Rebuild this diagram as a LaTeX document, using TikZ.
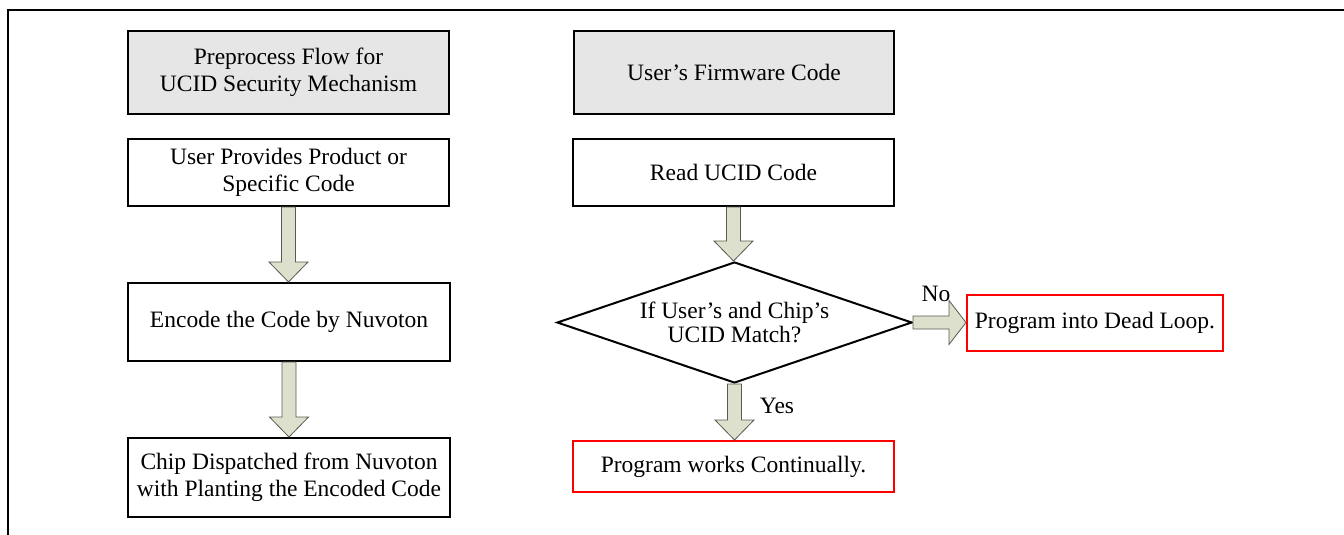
\documentclass[tikz,border=0pt]{standalone}
\usepackage{fontspec}
\setmainfont{Liberation Serif}
\usetikzlibrary{calc,shapes.geometric}
\definecolor{arrowfill}{RGB}{221,224,204}
\definecolor{boxgrey}{RGB}{230,230,230}
\definecolor{arrowline}{RGB}{90,90,80}
\tikzset{
  flowbox/.style={draw=black, line width=2pt, inner sep=0pt, align=center, font=\fontsize{23.5}{27.5}\selectfont},
  headbox/.style={flowbox, fill=boxgrey},
  redbox/.style={draw=red, line width=2pt, inner sep=0pt, align=center, font=\fontsize{23.5}{27.5}\selectfont},
  decision/.style={diamond, draw=black, line width=2pt, inner sep=0pt, aspect=2.9, align=center, font=\fontsize{23.5}{24}\selectfont},
  lbl/.style={inner sep=0pt, font=\fontsize{23.5}{27.5}\selectfont},
  barrow/.style={draw=arrowline, line width=0.8pt, fill=arrowfill, line join=miter},
  frame/.style={draw=black, line width=2.4pt}
}
\newcommand\blockdown[2]{%
  \draw[barrow] let \p1=(#1.south), \p2=(#2.north) in
    (\x1-7pt,\y1) -- (\x1-7pt,\y2+20pt) -- (\x1-19.5pt,\y2+20pt) -- (\x1,\y2)
    -- (\x1+19.5pt,\y2+20pt) -- (\x1+7pt,\y2+20pt) -- (\x1+7pt,\y1) -- cycle;}
\newcommand\blockright[2]{%
  \draw[barrow] let \p1=(#1.east), \p2=(#2.west) in
    (\x1,\y1+6.5pt) -- (\x2-17pt,\y1+6.5pt) -- (\x2-17pt,\y1+22pt) -- (\x2,\y1)
    -- (\x2-17pt,\y1-22pt) -- (\x2-17pt,\y1-6.5pt) -- (\x1,\y1-6.5pt) -- cycle;}
\begin{document}
\begin{tikzpicture}[x=1pt, y=-1pt]
\useasboundingbox (0,0) rectangle (1344,535);
\draw[frame] (8,536) -- (8,10) -- (1344,10);

\node[headbox, minimum width=321pt, minimum height=83pt] (pre) at (288.5,72.5) {Preprocess Flow for\\UCID Security Mechanism};
\node[headbox, minimum width=320pt, minimum height=83pt] (firm) at (734,72.5) {User’s Firmware Code};

\node[flowbox, minimum width=321pt, minimum height=67pt] (prov) at (288.5,172.5) {User Provides Product or\\Specific Code};
\node[flowbox, minimum width=321pt, minimum height=67pt] (read) at (733.5,172.5) {Read UCID Code};

\node[flowbox, minimum width=322pt, minimum height=78pt] (enc) at (289,322) {Encode the Code by Nuvoton};
\node[flowbox, minimum width=322pt, minimum height=79pt] (chip) at (289,477.5) {Chip Dispatched from Nuvoton\\with Planting the Encoded Code};

\node[decision, minimum width=355pt, minimum height=121pt] (dec) at (734.5,322.5) {If User’s and Chip’s\\UCID Match?};

\node[redbox, minimum width=256pt, minimum height=56pt] (dead) at (1095,323) {Program into Dead Loop.};
\node[redbox, minimum width=321pt, minimum height=51pt] (cont) at (733.5,466.5) {Program works Continually.};

\blockdown{prov}{enc}
\blockdown{enc}{chip}
\blockdown{read}{dec}
\blockdown{dec}{cont}
\blockright{dec}{dead}

\node[lbl] (no) at (936,294) {No};
\node[lbl] (yes) at (777,406) {Yes};
\end{tikzpicture}
\end{document}
